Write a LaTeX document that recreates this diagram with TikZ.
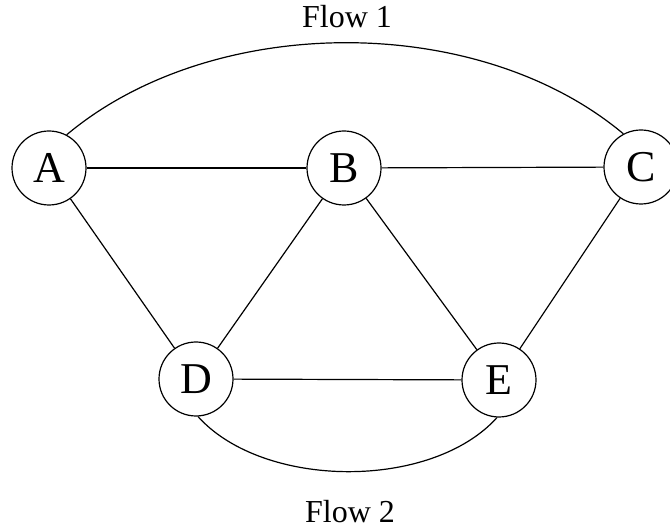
\documentclass[tikz,border=0pt]{standalone}
\usepackage{fontspec}
\setmainfont{Liberation Serif}
\begin{document}
\begin{tikzpicture}[x=1pt,y=-1pt,
  vertex/.style={draw,circle,minimum size=74pt,inner sep=0pt,line width=1.2pt,font=\fontsize{44}{44}\selectfont},
  edge/.style={line width=1.2pt},
  flowlabel/.style={anchor=base,inner sep=0pt,font=\fontsize{32}{32}\selectfont}]
\useasboundingbox (0,0) rectangle (670,529);
\node[vertex] (A) at (49,168) {A};
\node[vertex] (B) at (344,168) {B};
\node[vertex] (C) at (641,167) {C};
\node[vertex] (D) at (196,379) {D};
\node[vertex] (E) at (499,380) {E};
\draw[edge] (A) -- (B);
\draw[edge] (B) -- (C);
\draw[edge] (A) -- (D);
\draw[edge] (B) -- (D);
\draw[edge] (B) -- (E);
\draw[edge] (C) -- (E);
\draw[edge] (D) -- (E);
\draw[edge] (A.62) .. controls +(-40:190) and +(-140:190) .. (C.118);
\draw[edge] (D.-87) .. controls +(48:98) and +(132:98) .. (E.-93);
\node[flowlabel] (f1) at (347,28) {Flow 1};
\node[flowlabel] (f2) at (350,522) {Flow 2};
\end{tikzpicture}
\end{document}
